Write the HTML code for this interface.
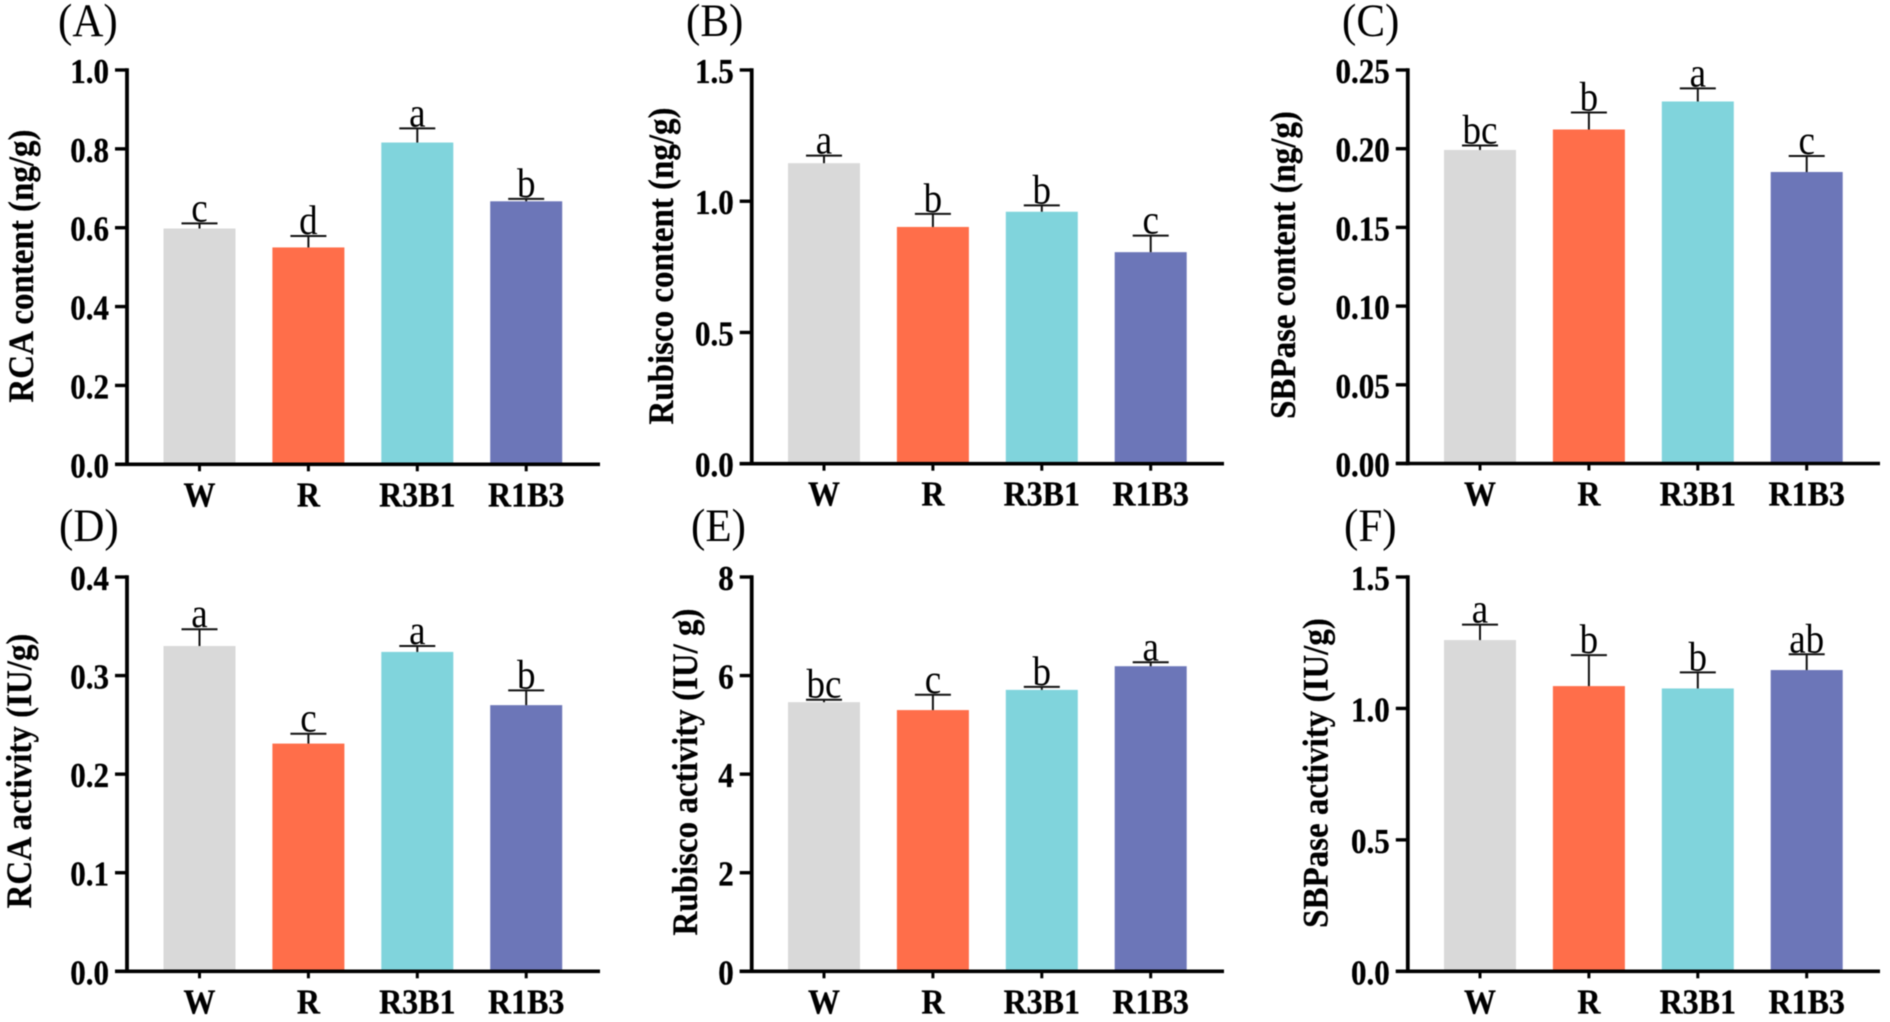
<!DOCTYPE html>
<html lang="en">
<head>
<meta charset="utf-8">
<title>RCA, Rubisco and SBPase content and activity</title>
<style>
html,body{margin:0;padding:0;background:#fff;width:1890px;height:1022px;overflow:hidden}
svg{display:block;filter:blur(.55px)}
text{font-family:"Liberation Serif","Times New Roman",serif;fill:#000}
.tick{font-size:31px;font-weight:700;text-anchor:end;stroke:#000;stroke-width:.3px}
.cat{font-size:32px;font-weight:700;text-anchor:middle;stroke:#000;stroke-width:.3px}
.title{font-size:33px;font-weight:700;text-anchor:middle;stroke:#000;stroke-width:.25px}
.panel{font-size:43px}
.sig{font-size:37px;text-anchor:middle}
</style>
</head>
<body>
<svg id="figure" xmlns="http://www.w3.org/2000/svg" width="1890" height="1022" viewBox="0 0 1890 1022"></svg>
<script>
const categories = ['W', 'R', 'R3B1', 'R1B3'];
const barColors = ['#d9d9d9', '#ff6e4a', '#80d4dc', '#6c76b8'];

const rcaContentValues = [0.598, 0.550, 0.816, 0.667];
const rcaContentErrors = [0.013, 0.029, 0.036, 0.006];
const rcaContentLetters = ['c', 'd', 'a', 'b'];
const rcaContentTicks = ['0.0', '0.2', '0.4', '0.6', '0.8', '1.0'];

const rubiscoContentValues = [1.145, 0.902, 0.960, 0.806];
const rubiscoContentErrors = [0.029, 0.050, 0.024, 0.063];
const rubiscoContentLetters = ['a', 'b', 'b', 'c'];
const rubiscoContentTicks = ['0.0', '0.5', '1.0', '1.5'];

const sbpaseContentValues = [0.1992, 0.2122, 0.2300, 0.1852];
const sbpaseContentErrors = [0.0028, 0.0108, 0.0083, 0.0102];
const sbpaseContentLetters = ['bc', 'b', 'a', 'c'];
const sbpaseContentTicks = ['0.00', '0.05', '0.10', '0.15', '0.20', '0.25'];

const rcaActivityValues = [0.330, 0.231, 0.324, 0.270];
const rcaActivityErrors = [0.017, 0.010, 0.006, 0.015];
const rcaActivityLetters = ['a', 'c', 'a', 'b'];
const rcaActivityTicks = ['0.0', '0.1', '0.2', '0.3', '0.4'];

const rubiscoActivityValues = [5.46, 5.30, 5.71, 6.19];
const rubiscoActivityErrors = [0.05, 0.31, 0.06, 0.08];
const rubiscoActivityLetters = ['bc', 'c', 'b', 'a'];
const rubiscoActivityTicks = ['0', '2', '4', '6', '8'];

const sbpaseActivityValues = [1.260, 1.085, 1.076, 1.146];
const sbpaseActivityErrors = [0.059, 0.118, 0.061, 0.060];
const sbpaseActivityLetters = ['a', 'b', 'b', 'ab'];
const sbpaseActivityTicks = ['0.0', '0.5', '1.0', '1.5'];

const panels = [
  {key:'a', label:'(A)', labelX:58, labelY:36, title:'RCA content (ng/g)', titleX:33, titleY:266, axisX:127, top:70, base:464.3, endX:600, x0:199.5, values:rcaContentValues, errors:rcaContentErrors, letters:rcaContentLetters, ticks:rcaContentTicks},
  {key:'b', label:'(B)', labelX:686, labelY:36, title:'Rubisco content (ng/g)', titleX:673, titleY:266, axisX:751.7, top:70, base:463.7, endX:1224, x0:824, values:rubiscoContentValues, errors:rubiscoContentErrors, letters:rubiscoContentLetters, ticks:rubiscoContentTicks},
  {key:'c', label:'(C)', labelX:1342, labelY:36, title:'SBPase content (ng/g)', titleX:1295, titleY:265, axisX:1407.8, top:70, base:463.5, endX:1880, x0:1480, values:sbpaseContentValues, errors:sbpaseContentErrors, letters:sbpaseContentLetters, ticks:sbpaseContentTicks},
  {key:'d', label:'(D)', labelX:59, labelY:541, title:'RCA activity (IU/g)', titleX:31, titleY:771, axisX:127, top:577, base:971.3, endX:600, x0:199.5, values:rcaActivityValues, errors:rcaActivityErrors, letters:rcaActivityLetters, ticks:rcaActivityTicks},
  {key:'e', label:'(E)', labelX:691, labelY:541, title:'Rubisco activity (IU/ g)', titleX:697, titleY:772, axisX:751.7, top:577, base:971.3, endX:1224, x0:824, values:rubiscoActivityValues, errors:rubiscoActivityErrors, letters:rubiscoActivityLetters, ticks:rubiscoActivityTicks},
  {key:'f', label:'(F)', labelX:1344, labelY:541, title:'SBPase activity (IU/g)', titleX:1327.5, titleY:773, axisX:1407.8, top:577, base:971.3, endX:1880, x0:1480, values:sbpaseActivityValues, errors:sbpaseActivityErrors, letters:sbpaseActivityLetters, ticks:sbpaseActivityTicks}
];

const NS = 'http://www.w3.org/2000/svg';
const BAR_STEP = 108.9, BAR_WIDTH = 72, CAP_HALF = 18;

function make(parent, tag, props, text) {
  const node = document.createElementNS(NS, tag);
  for (const k in props) node.setAttribute(k, props[k]);
  if (text !== undefined) node.textContent = text;
  parent.appendChild(node);
  return node;
}

function tall(x, y, sy) {
  return 'translate(' + x + ' ' + y + ') scale(1 ' + sy + ')';
}

const figure = document.getElementById('figure');

panels.forEach(function (p) {
  const yMax = parseFloat(p.ticks[p.ticks.length - 1]);
  const yScale = function (v) { return p.base - (v / yMax) * (p.base - p.top); };
  const xScale = function (i) { return p.x0 + i * BAR_STEP; };

  const g = make(figure, 'g', {});
  
  

  const panelLabel = make(g, 'text', {class:'panel', transform:tall(p.labelX, p.labelY, 1.08)}, p.label);
  
  

  const yTitle = make(g, 'text', {class:'title', transform:'translate(' + p.titleX + ' ' + p.titleY + ') rotate(-90) scale(1 1.1)'}, p.title);
  
  

  p.values.forEach(function (v, i) {
    const cx = xScale(i);
    const yTop = yScale(v);
    const bar = make(g, 'rect', {x:cx - BAR_WIDTH / 2, y:yTop, width:BAR_WIDTH, height:p.base - yTop, fill:barColors[i]});
    
    

    const capY = yScale(v + p.errors[i]);
    const stem = make(g, 'line', {x1:cx, x2:cx, y1:yTop, y2:capY, stroke:'#111', 'stroke-width':2});
    
    

    const cap = make(g, 'line', {x1:cx - CAP_HALF, x2:cx + CAP_HALF, y1:capY, y2:capY, stroke:'#111', 'stroke-width':2});
    
    

    const letter = make(g, 'text', {class:'sig', transform:tall(cx, capY - 2, 1.12)}, p.letters[i]);
    
    

    const xTick = make(g, 'line', {x1:cx, x2:cx, y1:p.base, y2:p.base + 7, stroke:'#000', 'stroke-width':3});
    
    

    const xLabel = make(g, 'text', {class:'cat', transform:tall(cx, p.base + 42, 1.1)}, categories[i]);
    
    
  });

  p.ticks.forEach(function (t) {
    const ty = yScale(parseFloat(t));
    const yTick = make(g, 'line', {x1:p.axisX - 12, x2:p.axisX, y1:ty, y2:ty, stroke:'#000', 'stroke-width':3.4});
    
    

    const yLabel = make(g, 'text', {class:'tick', transform:tall(p.axisX - 18, ty + 13, 1.12)}, t);
    
    
  });

  const yAxis = make(g, 'line', {x1:p.axisX, x2:p.axisX, y1:p.top - 1.7, y2:p.base + 1.7, stroke:'#000', 'stroke-width':3.8});
  
  

  const xAxis = make(g, 'line', {x1:p.axisX - 12, x2:p.endX, y1:p.base, y2:p.base, stroke:'#000', 'stroke-width':3.6});
  
  
});
</script>
</body>
</html>
